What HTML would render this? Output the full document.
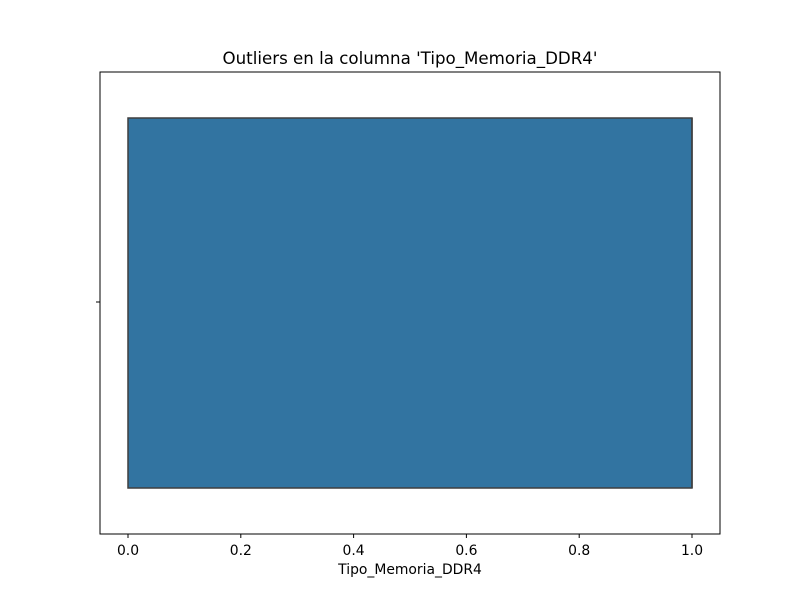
<!DOCTYPE html>
<html><head><meta charset="utf-8"><style>
body{margin:0;background:#fff;}
svg{display:block;font-family:"DejaVu Sans","Liberation Sans",sans-serif;}
</style></head><body>
<svg width="800" height="600" viewBox="0 0 800 600">
<rect width="800" height="600" fill="#fff"/>
<text x="410" y="64" text-anchor="middle" font-size="16.67">Outliers en la columna 'Tipo_Memoria_DDR4'</text>
<g id="plot"></g>
<rect x="100" y="72" width="620" height="462" fill="none" stroke="#000" stroke-width="1"/>
<line x1="96" y1="302" x2="100" y2="302" stroke="#000"/>
<g id="xticks"></g>
<text x="410" y="574" text-anchor="middle" font-size="13.9">Tipo_Memoria_DDR4</text>
</svg>
<script>
const ticks=[0,0.2,0.4,0.6,0.8,1.0];
const tickLabels=["0.0","0.2","0.4","0.6","0.8","1.0"];
const q1=[0];
const q3=[1];
const medians=[1];
const ns="http://www.w3.org/2000/svg";
const sx=v=>128+v*(692-128);
const plot=document.getElementById('plot');
const xt=document.getElementById('xticks');
function mk(t,a,p){const e=document.createElementNS(ns,t);for(const k in a)e.setAttribute(k,a[k]);p.appendChild(e);return e;}
ticks.forEach((v,i)=>{
 const l=mk('line',{x1:sx(v),x2:sx(v),y1:534,y2:538,stroke:'#000'},xt);
 
 
 const t=mk('text',{x:sx(v),y:555,'text-anchor':'middle','font-size':'13.9'},xt);
 t.textContent=tickLabels[i];
 
 
});
q1.forEach((v,i)=>{
 const b=mk('rect',{x:sx(v),y:118,width:sx(q3[i])-sx(v),height:370,fill:'#3274a1',stroke:'#3f3f3f','stroke-width':1.5},plot);
 
 
 const m=mk('line',{x1:sx(medians[i]),x2:sx(medians[i]),y1:118,y2:488,stroke:'#3f3f3f','stroke-width':1.5},plot);
 
 
});
</script>
</body></html>
